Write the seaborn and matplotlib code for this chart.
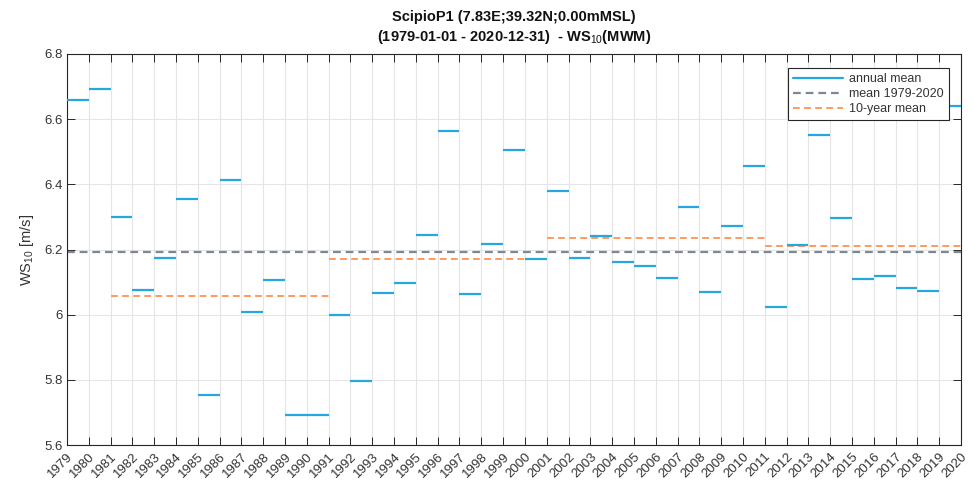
import numpy as np
import pandas as pd
import matplotlib
matplotlib.use("Agg")
import matplotlib.pyplot as plt
from matplotlib.lines import Line2D
from matplotlib import font_manager
import seaborn as sns

# Annual mean 10 m wind speed at ScipioP1 (each value covers [year, year+1])
years = list(range(1979, 2021))
ws_annual = [
    6.659, 6.693, 6.301, 6.076, 6.175, 6.355, 5.753, 6.413, 6.009, 6.107,
    5.692, 5.692, 5.999, 5.796, 6.067, 6.096, 6.243, 6.564, 6.063, 6.217,
    6.505, 6.170, 6.381, 6.174, 6.240, 6.161, 6.149, 6.112, 6.331, 6.071,
    6.273, 6.457, 6.025, 6.215, 6.551, 6.298, 6.109, 6.119, 6.082, 6.073,
    6.640, 6.008,
]
decade_starts = [1981, 1991, 2001, 2011]
tick_labels = [str(y) for y in years]
yticks = [5.6, 5.8, 6.0, 6.2, 6.4, 6.6, 6.8]
ytick_labels = ["5.6", "5.8", "6", "6.2", "6.4", "6.6", "6.8"]

df = pd.DataFrame({"year": years, "ws": ws_annual})
overall_mean = df["ws"].mean()
decade_means = [df.loc[(df.year >= s) & (df.year < s + 10), "ws"].mean() for s in decade_starts]

sns.set_theme(style="white")
plt.rcParams["font.family"] = ["Liberation Sans", "DejaVu Sans"]
plt.rcParams["mathtext.fontset"] = "custom"
plt.rcParams["mathtext.rm"] = "Liberation Sans"
plt.rcParams["mathtext.bf"] = "Liberation Sans:bold"

# Prefer a condensed face for the title when one is installed
try:
    font_manager.findfont(font_manager.FontProperties(family="Liberation Sans Narrow"),
                          fallback_to_default=False)
    title_font, title_size = ["Liberation Sans Narrow", "DejaVu Sans"], 11.5
except Exception:
    title_font, title_size = ["Liberation Sans", "DejaVu Sans"], 10.5

c_annual = "#27A7E0"
c_mean = "#7D8894"
c_dec = "#FF9A5E"
c_axis = "#262626"
c_tick = "#333333"
c_grid = "#E5E5E5"

fig = plt.figure(figsize=(9.73, 4.82), dpi=100)
ax = fig.add_axes([67 / 973, 1 - 445 / 482, (961 - 67) / 973, (445 - 54) / 482])

dash = (0, (3.5, 2.2))
ax.hlines(df["ws"], df["year"], df["year"] + 1, colors=c_annual, linewidth=1.6, zorder=3)
ax.axhline(overall_mean, color=c_mean, linewidth=1.6, linestyle=dash, zorder=2)
ax.hlines(decade_means, decade_starts, [s + 10 for s in decade_starts],
          colors=c_dec, linewidth=1.4, linestyles=[dash], zorder=2)

ax.set_xlim(1979, 2020)
ax.set_ylim(5.6, 6.8)
ax.set_xticks(years)
ax.set_xticklabels(tick_labels, rotation=45, ha="right", rotation_mode="anchor")
ax.set_yticks(yticks)
ax.set_yticklabels(ytick_labels)

ax.grid(True, color=c_grid, linewidth=0.8, zorder=0)
ax.set_axisbelow(True)
for sp in ax.spines.values():
    sp.set_visible(True)
    sp.set_color(c_axis)
    sp.set_linewidth(0.8)
ax.tick_params(axis="both", direction="in", length=6, width=0.7, color=c_axis,
               labelcolor=c_tick, labelsize=9.5, top=True, right=True,
               bottom=True, left=True, pad=3)
ax.tick_params(axis="x", pad=4)

ax.set_ylabel("WS$_{10}$ [m/s]", fontsize=10.5, color=c_tick, labelpad=6)

xc = 0.5 * (67 + 961) / 973
fig.text(xc, 1 - 17 / 482, "ScipioP1 (7.83E;39.32N;0.00mMSL)",
         ha="center", va="center", fontsize=title_size, fontweight="bold",
         family=title_font, color="#111111")
fig.text(xc, 1 - 37 / 482,
         "(1979-01-01 - 2020-12-31)  - WS$_{10}$(MWM)",
         ha="center", va="center", fontsize=title_size, fontweight="bold",
         family=title_font, color="#111111")

handles = [
    Line2D([], [], color=c_annual, linewidth=1.6),
    Line2D([], [], color=c_mean, linewidth=1.6, linestyle=dash),
    Line2D([], [], color=c_dec, linewidth=1.4, linestyle=dash),
]
leg = ax.legend(handles, ["annual mean", "mean 1979-2020", "10-year mean"],
                loc="upper right", bbox_to_anchor=(0.9866, 0.964), borderaxespad=0,
                fontsize=9, frameon=True, fancybox=False, framealpha=1,
                handlelength=4.0, handletextpad=0.5, borderpad=0.4,
                labelspacing=0.25)
leg.get_frame().set_edgecolor(c_axis)
leg.get_frame().set_linewidth(0.8)
for t in leg.get_texts():
    t.set_color(c_tick)

fig.savefig("out.png", dpi=100)
